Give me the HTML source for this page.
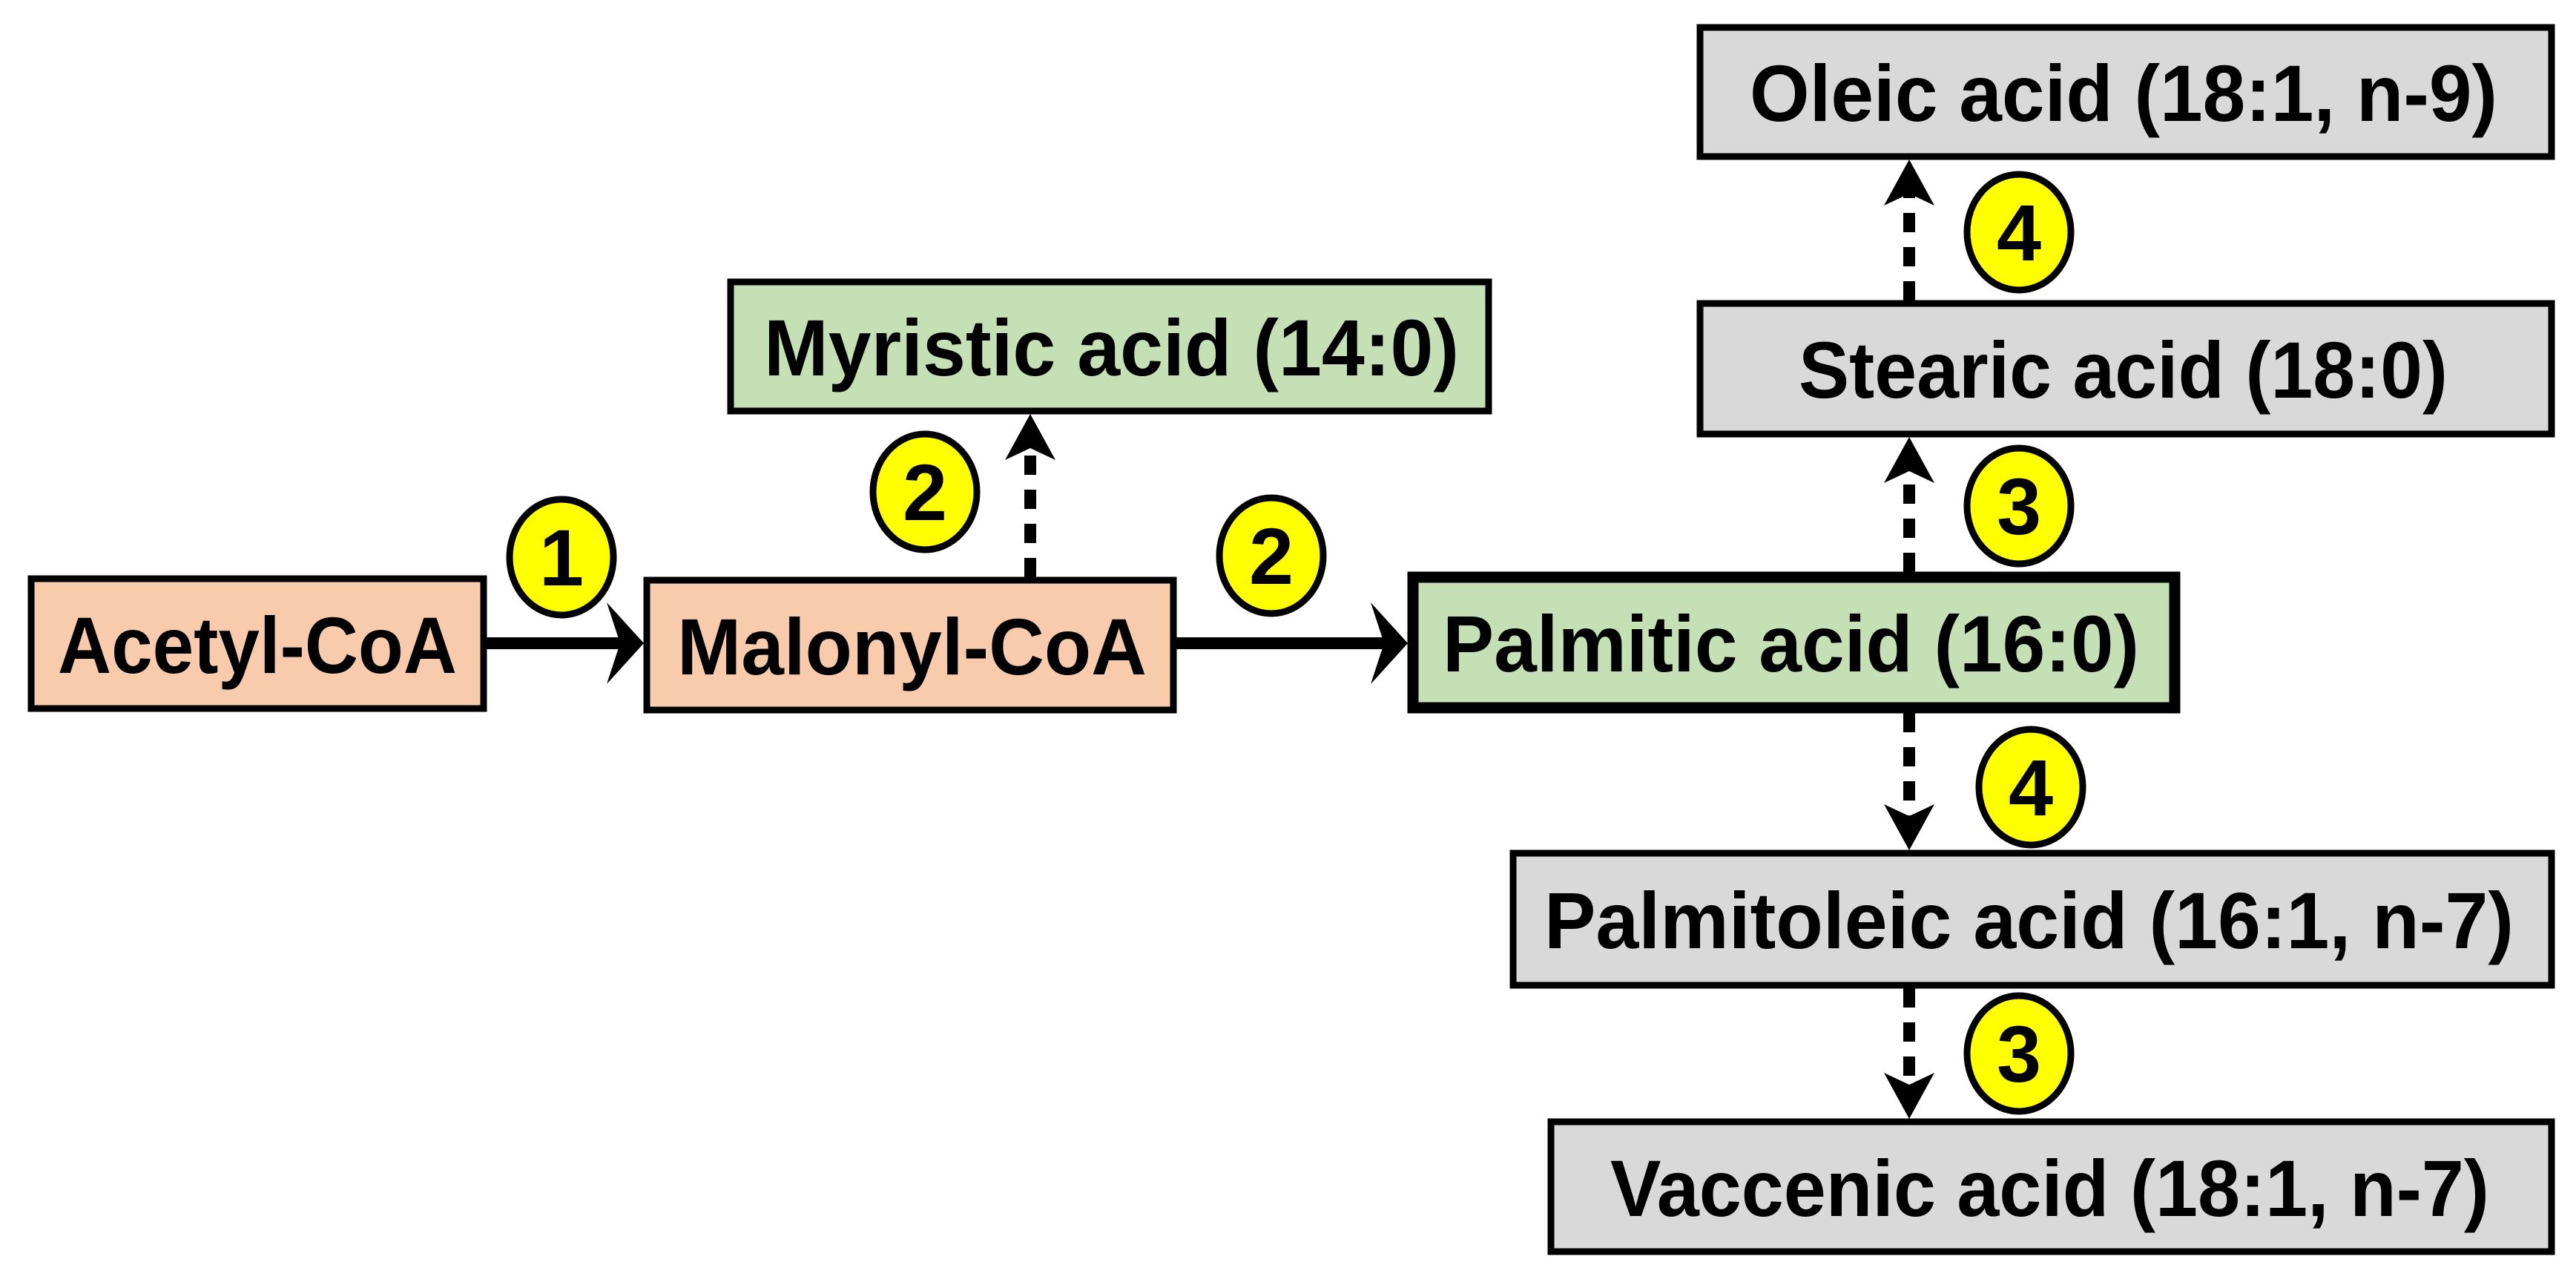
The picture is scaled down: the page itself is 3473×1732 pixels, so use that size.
<!DOCTYPE html>
<html><head><meta charset="utf-8"><style>html,body{margin:0;padding:0;background:#fff}svg{display:block}</style></head><body>
<svg width="3473" height="1732" viewBox="0 0 3473 1732" xmlns="http://www.w3.org/2000/svg">
<g fill="none" stroke="#000">
<line x1="656" y1="867" x2="840" y2="867" stroke-width="16"/>
<line x1="1586" y1="867" x2="1870" y2="867" stroke-width="16"/>
<g stroke-width="16" stroke-dasharray="26,20">
<line x1="1389" y1="778" x2="1389" y2="595"/>
<line x1="2574" y1="771" x2="2574" y2="625"/>
<line x1="2574" y1="405" x2="2574" y2="250"/>
<line x1="2574" y1="961" x2="2574" y2="1112"/>
<line x1="2574" y1="1332" x2="2574" y2="1474"/>
</g>
</g>
<g fill="#000">
<polygon points="868,867 818,812 836,867 818,922"/>
<polygon points="1898,867 1848,812 1866,867 1848,922"/>
<polygon points="1389,558 1355,620 1389,604 1423,620"/>
<polygon points="2574,589 2540,651 2574,635 2608,651"/>
<polygon points="2574,215 2540,277 2574,261 2608,277"/>
<polygon points="2574,1146 2540,1084 2574,1100 2608,1084"/>
<polygon points="2574,1508 2540,1446 2574,1462 2608,1446"/>
</g>
<g stroke="#000" stroke-width="9">
<rect x="42" y="780" width="610" height="175" fill="#F8CBAD"/>
<rect x="872" y="782" width="710" height="175" fill="#F8CBAD"/>
<rect x="985" y="380" width="1022" height="174" fill="#C5E0B4"/>
<rect x="2292" y="37" width="1148" height="174" fill="#D9D9D9"/>
<rect x="2292" y="409" width="1148" height="176" fill="#D9D9D9"/>
<rect x="2040" y="1150" width="1400" height="178" fill="#D9D9D9"/>
<rect x="2091" y="1512" width="1349" height="175" fill="#D9D9D9"/>
</g>
<rect x="1905" y="778" width="1027" height="176" fill="#C5E0B4" stroke="#000" stroke-width="15"/>
<g fill="#FFFF00" stroke="#000" stroke-width="9">
<ellipse cx="757" cy="751" rx="70" ry="78"/>
<ellipse cx="1247" cy="663" rx="70" ry="78"/>
<ellipse cx="1714" cy="749" rx="70" ry="78"/>
<ellipse cx="2722" cy="313" rx="70" ry="78"/>
<ellipse cx="2722" cy="682" rx="70" ry="78"/>
<ellipse cx="2738" cy="1061" rx="70" ry="78"/>
<ellipse cx="2722" cy="1420" rx="70" ry="78"/>
</g>
<g font-family="Liberation Sans, sans-serif" font-weight="bold" font-size="108" fill="#000" text-anchor="middle">
<text x="757" y="789">1</text>
<text x="1247" y="701">2</text>
<text x="1714" y="787">2</text>
<text x="2722" y="351">4</text>
<text x="2722" y="720">3</text>
<text x="2738" y="1099">4</text>
<text x="2722" y="1458">3</text>
</g>
<g font-family="Liberation Sans, sans-serif" font-weight="bold" font-size="108" fill="#000">
<text x="78" y="907" textLength="538" lengthAdjust="spacingAndGlyphs">Acetyl-CoA</text>
<text x="913" y="909" textLength="633" lengthAdjust="spacingAndGlyphs">Malonyl-CoA</text>
<text x="1030" y="506" textLength="937" lengthAdjust="spacingAndGlyphs">Myristic acid (14:0)</text>
<text x="1945" y="905" textLength="939" lengthAdjust="spacingAndGlyphs">Palmitic acid (16:0)</text>
<text x="2359" y="163" textLength="1008" lengthAdjust="spacingAndGlyphs">Oleic acid (18:1, n-9)</text>
<text x="2425" y="536" textLength="875" lengthAdjust="spacingAndGlyphs">Stearic acid (18:0)</text>
<text x="2082" y="1278" textLength="1307" lengthAdjust="spacingAndGlyphs">Palmitoleic acid (16:1, n-7)</text>
<text x="2171" y="1639" textLength="1185" lengthAdjust="spacingAndGlyphs">Vaccenic acid (18:1, n-7)</text>
</g>
</svg>
</body></html>
